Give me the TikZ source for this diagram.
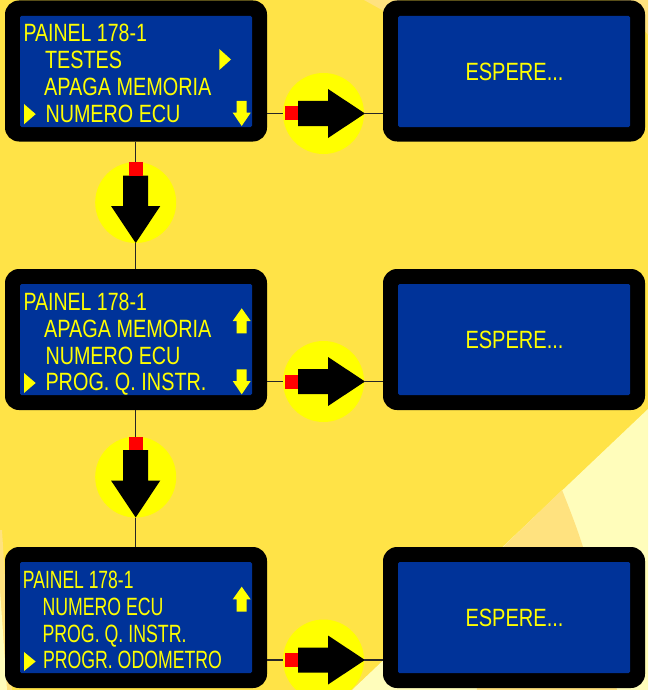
\documentclass[tikz,border=0pt]{standalone}
\usepackage{graphicx}
\usepackage{fontspec}
\setmainfont{Liberation Sans}
\definecolor{bgyellow}{HTML}{FFE347}
\definecolor{bgpale}{HTML}{FFFDBB}
\definecolor{bgorange}{HTML}{FFE27F}
\definecolor{lcdblue}{HTML}{003399}
\definecolor{lcdyellow}{HTML}{FFFF00}
\tikzset{
  x=1pt,y=-1pt,
  bezel/.style={fill=black,rounded corners=14pt,minimum width=262pt,minimum height=141pt,inner sep=0pt,outer sep=0pt},
  screen/.style={fill=lcdblue,rounded corners=1.5pt,minimum width=232pt,minimum height=111pt,inner sep=0pt,outer sep=0pt},
  lcdtext/.style={anchor=base west,inner sep=0pt,outer sep=0pt,text=lcdyellow,font=\fontsize{25}{25}\selectfont},
  waittext/.style={anchor=base west,inner sep=0pt,outer sep=0pt,text=lcdyellow,font=\fontsize{25}{25}\selectfont},
  disc/.style={circle,fill=lcdyellow,minimum size=81pt,inner sep=0pt,outer sep=0pt},
  wire/.style={draw=black!85,line width=1.5pt},
  glyph/.style={fill=lcdyellow},
  bigarrow/.style={fill=black},
  redpad/.style={fill=red}
}
% name, x, baseline y, width, text
\newcommand{\lcdline}[5]{\node[lcdtext] (#1) at (#2,{#3+0.8}) {\resizebox{#4pt}{\height}{#5}};}
\newcommand{\waitline}[3]{\node[waittext] (#1) at (465.5,{#2+0.8}) {\resizebox{98pt}{\height}{#3}};}
% x, top y, bottom y
\newcommand{\tri}[3]{\fill[glyph] (#1,#2) -- ({#1+11.7},{(#2+#3)/2}) -- (#1,#3) -- cycle;}
\newcommand{\downglyph}[1]{\fill[glyph] (236.7,#1) -- (246.7,#1) -- (246.7,{#1+11.7}) -- (250.7,{#1+11.7}) -- (241.7,{#1+25}) -- (232.7,{#1+11.7}) -- (236.7,{#1+11.7}) -- cycle;}
\newcommand{\upglyph}[1]{\fill[glyph] (241.7,#1) -- (250.7,{#1+12.7}) -- (246.7,{#1+12.7}) -- (246.7,{#1+25}) -- (236.7,{#1+25}) -- (236.7,{#1+12.7}) -- (232.7,{#1+12.7}) -- cycle;}
% horizontal arrow at centre y
\newcommand{\harrow}[2]{%
  \node[disc] (#1) at (323.5,#2) {};
  \fill[redpad] (285,{#2-7}) rectangle (298,{#2+7});
  \fill[bigarrow] (298,{#2-12.5}) -- (328,{#2-12.5}) -- (328,{#2-24.5}) -- (365,#2) -- (328,{#2+24.5}) -- (328,{#2+12.5}) -- (298,{#2+12.5}) -- cycle;}
% vertical arrow at centre y
\newcommand{\varrow}[2]{%
  \node[disc] (#1) at (135.7,#2) {};
  \fill[redpad] (128.7,{#2-40.5}) rectangle (142.5,{#2-27});
  \fill[bigarrow] (123,{#2-27}) -- (148,{#2-27}) -- (148,{#2+3.5}) -- (160.3,{#2+3.5}) -- (135.7,{#2+40.5}) -- (111,{#2+3.5}) -- (123,{#2+3.5}) -- cycle;}
\begin{document}
\begin{tikzpicture}
\useasboundingbox (0,0) rectangle (648,690);
\clip (0,0) rectangle (648,690);
% background
\fill[bgyellow] (0,0) rectangle (648,690);
\fill[bgpale] (648,409) -- (648,690) -- (352,690) -- cycle;
\fill[bgorange] (562,490) -- (503,547) -- (470,600) -- (477,690) -- (617,690) .. controls (600,620) and (590,565) .. (583,547) .. controls (577,528) and (570,510) .. (562,490) -- cycle;
\fill[bgorange] (364,0) -- (400,20) -- (400,0) -- cycle;
\fill[bgorange] (620,0) -- (648,0) -- (648,35) -- cycle;
\fill[bgorange] (2,530) -- (12,690) -- (0,690) -- (0,530) -- cycle;
\fill[bgpale] (0,590) -- (7,690) -- (0,690) -- cycle;
% bezels and screens, left
\node[bezel] (lcdA) at (136,71) {};
\node[screen] (scrA) at (136,71.5) {};
\node[bezel] (lcdB) at (136,339.5) {};
\node[screen] (scrB) at (136,339.5) {};
\node[bezel] (lcdC) at (136,617.5) {};
\node[screen] (scrC) at (136,617.5) {};
% bezels and screens, right
\node[bezel] (waitA) at (514,71) {};
\node[screen] (swaitA) at (514,71.5) {};
\node[bezel] (waitB) at (514,339.5) {};
\node[screen] (swaitB) at (514,339.5) {};
\node[bezel] (waitC) at (514,617.5) {};
\node[screen] (swaitC) at (514,617.5) {};
% arrows
\harrow{hA}{113.5}
\harrow{hB}{381.5}
\harrow{hC}{660}
\varrow{vA}{202.5}
\varrow{vB}{477}
% connectors
\draw[wire] (lcdA.east |- hA.center) -- (hA.west);
\draw[wire] (hA.east) -- (waitA.west |- hA.center);
\draw[wire] (lcdB.east |- hB.center) -- (hB.west);
\draw[wire] (hB.east) -- (waitB.west |- hB.center);
\draw[wire] (lcdC.east |- hC.center) -- (hC.west);
\draw[wire] (hC.east) -- (waitC.west |- hC.center);
\draw[wire] (vA.north |- lcdA.south) -- (vA.north);
\draw[wire] (vA.south) -- (vA.south |- lcdB.north);
\draw[wire] (vB.north |- lcdB.south) -- (vB.north);
\draw[wire] (vB.south) -- (vB.south |- lcdC.north);
% redraw red pads over the wire ends
\fill[redpad] (285,106.5) rectangle (298,120.5);
\fill[redpad] (285,374.5) rectangle (298,388.5);
\fill[redpad] (285,653) rectangle (298,667);
\fill[redpad] (128.7,162) rectangle (142.5,175.5);
\fill[redpad] (128.7,436.5) rectangle (142.5,450);
% screen text A
\lcdline{a1}{23.5}{40.7}{123.5}{PAINEL 178-1}
\lcdline{a2}{45}{67.7}{77}{TESTES}
\lcdline{a3}{44}{95}{167.5}{APAGA MEMORIA}
\lcdline{a4}{45.5}{121.7}{135}{NUMERO ECU}
\tri{219.3}{49}{70}
\tri{24}{104}{124.3}
\downglyph{101}
% screen text B
\lcdline{b1}{23.5}{310}{123.5}{PAINEL 178-1}
\lcdline{b2}{44}{336.7}{167.5}{APAGA MEMORIA}
\lcdline{b3}{45.5}{363.3}{135}{NUMERO ECU}
\lcdline{b4}{45.5}{390}{161}{PROG. Q. INSTR.}
\tri{24}{373}{393}
\upglyph{308.3}
\downglyph{369.3}
% screen text C
\lcdline{c1}{23}{587.7}{110.5}{PAINEL 178-1}
\lcdline{c2}{42.5}{614.3}{121}{NUMERO ECU}
\lcdline{c3}{42.5}{641.7}{144}{PROG. Q. INSTR.}
\lcdline{c4}{43}{667.7}{179}{PROGR. ODOMETRO}
\tri{24}{652}{671}
\upglyph{586.7}
% wait text
\waitline{wa}{79.5}{ESPERE...}
\waitline{wb}{347.8}{ESPERE...}
\waitline{wc}{626}{ESPERE...}
\end{tikzpicture}
\end{document}
